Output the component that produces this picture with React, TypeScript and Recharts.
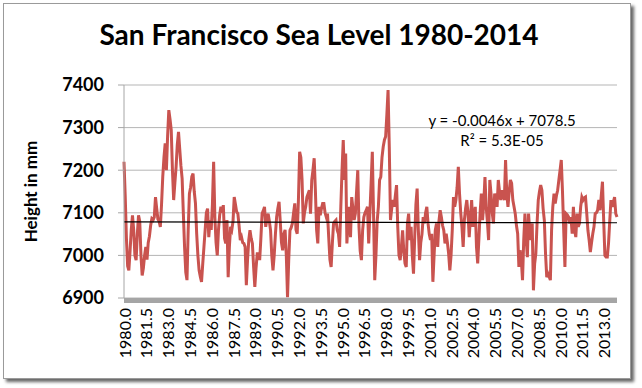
import { LineChart, Line, XAxis, YAxis, CartesianGrid, ReferenceLine, ReferenceArea } from "recharts";

// monthly mean sea level, San Francisco (mm)
const level1980s = [
  7220, 7140, 7040, 6975, 6965, 7010, 7060, 7094, 7060, 7000,
  6989, 7050, 7094, 7080, 7000, 6953, 6970, 7000, 7020, 6990,
  7030, 7045, 7070, 7086, 7083, 7090, 7137, 7110, 7085, 7080,
  7067, 7120, 7185, 7230, 7263, 7200, 7280, 7341, 7320, 7294,
  7200, 7130, 7170, 7208, 7260, 7290, 7250, 7210, 7180, 7098,
  7020, 6960, 6942, 7060, 7145, 7160, 7185, 7192, 7150, 7122,
  7051, 7000, 6965, 6950, 6938, 6980, 7020, 7060, 7100, 7110,
  7043, 7083, 7060, 7120, 7220, 7090, 7030, 7000, 7060, 7095,
  7114, 7100, 7118, 7040, 7028, 7083, 6949, 7020, 7067, 7060,
  7080, 7137, 7120, 7102, 7098, 7070, 7036, 7043, 7030, 7028,
  7020, 6930, 6990, 7036, 7059, 7040, 7028, 6973, 6926, 6970,
  7004, 7004, 6989, 7040, 7098, 7105, 7114, 7067, 7085, 7098,
];
const level1990s = [
  7080, 7059, 7000, 6965, 7000, 7050, 7090, 7110, 7126, 7080,
  7030, 7012, 7051, 7060, 7000, 6902, 6990, 7059, 7065, 7075,
  7100, 7122, 7060, 7051, 7130, 7243, 7230, 7177, 7075, 7100,
  7114, 7137, 7145, 7153, 7098, 7177, 7200, 7228, 7153, 7060,
  7028, 7114, 7094, 7110, 7122, 7122, 7100, 7090, 7098, 7043,
  6990, 6973, 7028, 7075, 7080, 7083, 7060, 7051, 7020, 7114,
  7200, 7271, 7177, 7239, 7028, 7080, 7114, 7043, 7137, 7110,
  7083, 7098, 7150, 7200, 7067, 7010, 6989, 7059, 7090, 7100,
  7106, 7114, 7028, 7100, 7169, 7243, 7098, 6942, 7000, 7080,
  7114, 7177, 7184, 7230, 7255, 7271, 7279, 7330, 7388, 7255,
  7083, 7110, 7130, 7114, 7140, 7165, 7067, 7000, 6989, 7020,
  7059, 7010, 6981, 6973, 7075, 7098, 7036, 7067, 7000, 6957,
];
const level2000s = [
  7043, 7120, 7157, 7059, 6989, 7030, 7050, 7090, 7075, 7100,
  7114, 7075, 7050, 7036, 7051, 6938, 7000, 7059, 7075, 7020,
  7080, 7106, 7090, 7070, 7059, 7028, 7051, 7030, 7004, 6965,
  7000, 7059, 7137, 7114, 7130, 7160, 7208, 7145, 7100, 7067,
  7020, 7083, 7110, 7130, 7098, 7043, 7090, 7130, 7067, 7090,
  7114, 7020, 6981, 7040, 7100, 7145, 7083, 7122, 7184, 7114,
  7080, 7036, 7177, 7145, 7100, 7075, 7145, 7130, 7114, 7177,
  7150, 7130, 7153, 7140, 7130, 7224, 7145, 7114, 7150, 7177,
  7169, 7130, 7114, 7098, 7070, 7051, 6973, 7012, 6990, 6942,
  7036, 7098, 7040, 6996, 7098, 7050, 7036, 7075, 6918, 6980,
  7004, 7075, 7130, 7150, 7165, 7153, 7110, 7083, 7004, 6949,
  6957, 6950, 6942, 7060, 7114, 7145, 7122, 7140, 7153, 7177,
];
const level2010s = [
  7200, 7224, 7150, 7060, 6973, 7098, 7095, 7090, 7075, 7090,
  7051, 7114, 7060, 7043, 7098, 7067, 7075, 7114, 7137, 7130,
  7135, 7137, 7100, 7059, 7036, 7008, 7030, 7051, 7067, 7098,
  7100, 7106, 7130, 7106, 7140, 7173, 7083, 7000, 6996, 6996,
  7028, 7080, 7130, 7114, 7125, 7137, 7098, 7090,
];

const START_YEAR = 1980;
const TICK_EVERY = 18; // months between axis labels (1.5 years)
const yTicks = [6900, 7000, 7100, 7200, 7300, 7400];

// Excel linear trendline, x = 1..n
const TREND_SLOPE = -0.0046;
const TREND_INTERCEPT = 7078.5;

const levels = [...level1980s, ...level1990s, ...level2000s, ...level2010s];
const data = levels.map((level, i) => ({ year: START_YEAR + i / 12, level }));
const first = data[0].year;
const last = data[data.length - 1].year;

const FONT = "Lato, 'Open Sans', sans-serif";

function YearTick({ x, y, payload }: any) {
  return (
    <text
      x={x}
      y={y}
      transform={`rotate(-90 ${x} ${y})`}
      textAnchor="end"
      dominantBaseline="central"
      fontSize={16}
      fill="#000"
    >
      {Number(payload.value).toFixed(1)}
    </text>
  );
}

function HeightLabel({ viewBox }: any) {
  const cx = viewBox.x + 30;
  const cy = viewBox.y + viewBox.height / 2;
  return (
    <text
      x={cx}
      y={cy}
      transform={`rotate(-90 ${cx} ${cy})`}
      textAnchor="middle"
      dominantBaseline="central"
      fontSize={17}
      fontWeight={700}
      fill="#000"
    >
      Height in mm
    </text>
  );
}

export default function App() {
  return (
    <div
      style={{
        position: "absolute",
        left: 0,
        top: 0,
        width: 642,
        height: 388,
        background: "#fff",
        fontFamily: FONT,
      }}
    >
      <div
        style={{
          position: "absolute",
          left: 3,
          top: 3,
          width: 626,
          height: 374,
          border: "1px solid #9a9a9a",
          boxShadow: "3px 3px 3px rgba(0,0,0,0.6)",
          background: "#fff",
        }}
      />
      <div
        style={{
          position: "absolute",
          left: 0,
          top: 17,
          width: 638,
          textAlign: "center",
          fontSize: 28,
          fontWeight: 700,
          lineHeight: "34px",
          color: "#000",
        }}
      >
        San Francisco Sea Level 1980-2014
      </div>
      <LineChart
        width={642}
        height={388}
        data={data}
        margin={{ top: 85, right: 25, bottom: 30, left: 0 }}
        style={{ position: "absolute", left: 0, top: 0 }}
      >
        <CartesianGrid vertical={false} stroke="#b5b5b5" />
        <XAxis
          dataKey="year"
          type="category"
          interval={TICK_EVERY - 1}
          tick={<YearTick />}
          tickLine={false}
          tickSize={0}
          tickMargin={10}
          axisLine={false}
          height={60}
        />
        <YAxis
          domain={[6900, 7400]}
          ticks={yTicks}
          width={124}
          tickSize={6}
          tickMargin={14}
          tick={{ fontSize: 18, fontWeight: 700, fill: "#000" }}
          stroke="#a6a6a6"
          label={<HeightLabel />}
        />
        <ReferenceArea y1={6888} y2={6900} ifOverflow="visible" fill="#a5a5a5" fillOpacity={1} stroke="none" />
        <Line
          type="linear"
          dataKey="level"
          stroke="#c9534f"
          strokeWidth={3}
          dot={false}
          isAnimationActive={false}
        />
        <ReferenceLine
          segment={[
            { x: first, y: TREND_INTERCEPT + TREND_SLOPE * 1 },
            { x: last, y: TREND_INTERCEPT + TREND_SLOPE * data.length },
          ]}
          stroke="#000"
          strokeWidth={1.2}
          ifOverflow="visible"
        />
      </LineChart>
      <div
        style={{
          position: "absolute",
          left: 402,
          top: 110,
          width: 200,
          textAlign: "center",
          fontSize: 15,
          lineHeight: "20px",
          color: "#000",
        }}
      >
        y = -0.0046x + 7078.5
        <br />
        R² = 5.3E-05
      </div>
    </div>
  );
}
